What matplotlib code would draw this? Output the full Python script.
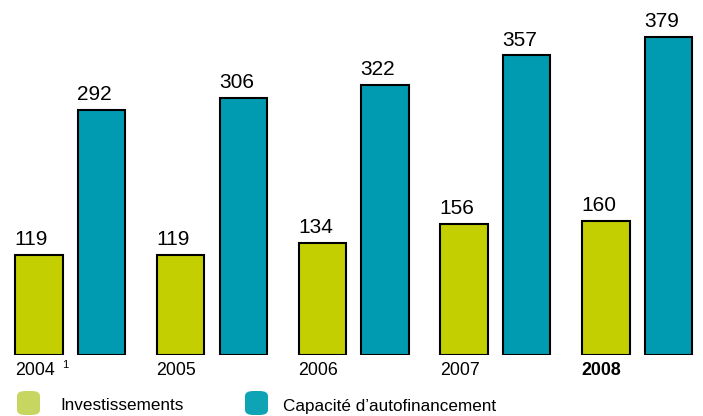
import matplotlib.pyplot as plt
from matplotlib.patches import FancyBboxPatch
import numpy as np

plt.rcParams['font.family'] = ['Liberation Sans', 'DejaVu Sans']

annees = ["2004", "2005", "2006", "2007", "2008"]
investissements = [119, 119, 134, 156, 160]
capacite = [292, 306, 322, 357, 379]
legende = ["Investissements", "Capacité d\u2019autofinancement"]

vert = "#c3cf00"
bleu = "#009bb1"

fig = plt.figure(figsize=(7.03, 4.16), dpi=100)
ax = fig.add_axes([0, 61 / 416, 1, 355 / 416])

x = np.arange(len(annees))
larg = 0.335
dec = 0.2205
ax.bar(x - dec, investissements, larg, color=vert, edgecolor="black", linewidth=1.5)
ax.bar(x + dec, capacite, larg, color=bleu, edgecolor="black", linewidth=1.5)

for i in range(len(annees)):
    ax.text(x[i] - dec - larg / 2 - 0.005, investissements[i] + 7, str(investissements[i]),
            ha="left", va="bottom", fontsize=15)
    ax.text(x[i] + dec - larg / 2 - 0.005, capacite[i] + 7, str(capacite[i]),
            ha="left", va="bottom", fontsize=15)
    poids = "bold" if annees[i] == "2008" else "normal"
    ax.text(x[i] - dec - larg / 2 - 0.003, -8, annees[i], ha="left", va="top",
            fontsize=12.8, fontweight=poids)

ax.text(x[0] - dec + larg / 2 - 0.003, -6, "1", ha="left", va="top", fontsize=8)

ax.set_xlim(-0.4956, 4.464)
ax.set_ylim(0, 423)
ax.axis("off")
for t in ax.texts:
    t.set_clip_on(False)

# legende
for xp, c, lab, xt in [(17, "#c6d660", legende[0], 60), (245, "#0fa3b6", legende[1], 283)]:
    p = FancyBboxPatch((xp / 703, 1 / 416), 23 / 703, 24 / 416,
                       boxstyle="round,pad=0,rounding_size=0.012",
                       transform=fig.transFigure, facecolor=c, edgecolor="none")
    fig.patches.append(p)
    fig.text(xt / 703, 10 / 416, lab, ha="left", va="center", fontsize=12.3)

fig.savefig("out.png", dpi=100)
